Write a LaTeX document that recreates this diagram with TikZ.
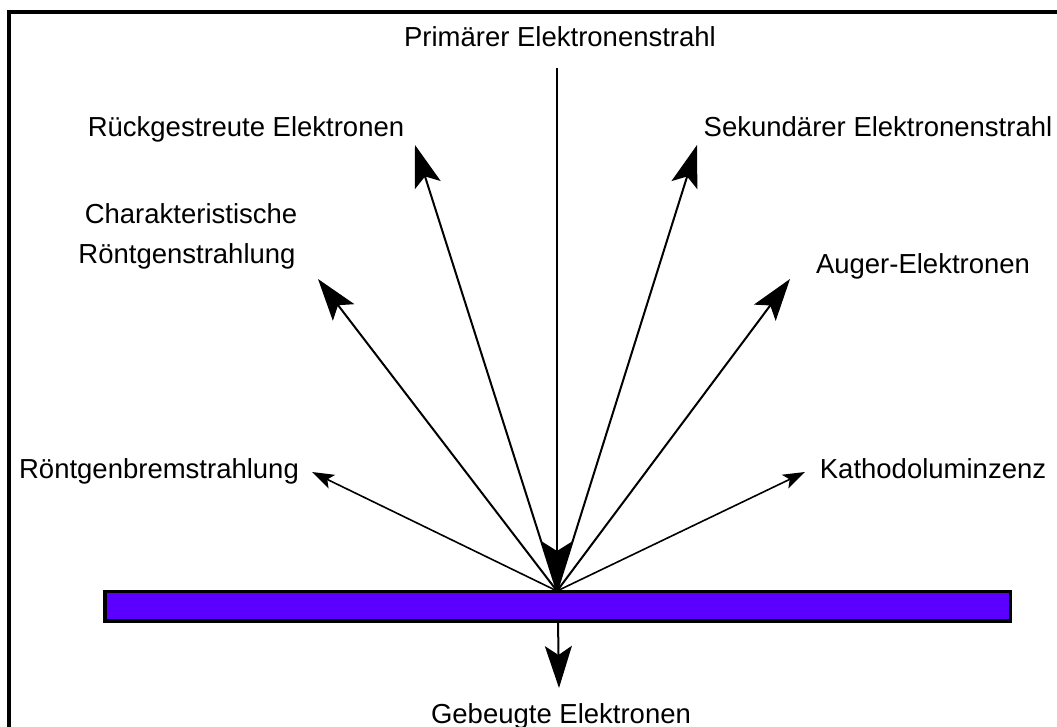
\documentclass[tikz,border=0pt]{standalone}
\usepackage{fontspec}
\setmainfont{Liberation Sans}
\usetikzlibrary{arrows.meta}
\definecolor{barcol}{RGB}{91,0,255}
\begin{document}
\begin{tikzpicture}[x=1pt,y=-1pt,
  lbl/.style={font=\fontsize{27.5}{33}\selectfont, inner sep=0pt, anchor=base},
  ray/.style={line width=2pt, -{Stealth[length=42pt,width=27pt,inset=9pt]}},
  mainray/.style={line width=2pt, -{Stealth[length=50pt,width=32pt,inset=10pt]}},
  smallray/.style={line width=1.6pt, -{Stealth[length=22pt,width=15pt,inset=5pt]}}]
\useasboundingbox (0,0) rectangle (1057,727);
\draw[line width=4pt] (9,727) -- (9,12) -- (1057,12);
\node[draw, line width=3.5pt, fill=barcol, minimum width=905.5pt, minimum height=29.3pt, inner sep=0pt] (bar) at (557.75,606.3) {};
\coordinate (c) at (557,591);
\coordinate (cb) at (558,621);
% labels
\node[lbl] (prim) at (560,47) {Primärer Elektronenstrahl};
\node[lbl] (rueck) at (246,137) {Rückgestreute Elektronen};
\node[lbl] (sek) at (878,137) {Sekundärer Elektronenstrahl};
\node[lbl] (char1) at (191,224) {Charakteristische};
\node[lbl] (char2) at (187,264) {Röntgenstrahlung};
\node[lbl] (auger) at (923,273) {Auger-Elektronen};
\node[lbl] (brems) at (159,478) {Röntgenbremstrahlung};
\node[lbl] (kath) at (933,478) {Kathodoluminzenz};
\node[lbl] (geb) at (561,723) {Gebeugte Elektronen};
% arrow ends
\coordinate (ptop) at (557,68);
\coordinate (trueck) at (415,145);
\coordinate (tsek) at (697,145);
\coordinate (tchar) at (318,279);
\coordinate (tauger) at (790,279);
\coordinate (tbrems) at (312,472);
\coordinate (tkath) at (805,472);
\coordinate (tgeb) at (559,688);
\draw[mainray] (ptop) -- (c);
\draw[ray] (c) -- (trueck);
\draw[ray] (c) -- (tsek);
\draw[ray] (c) -- (tchar);
\draw[ray] (c) -- (tauger);
\draw[smallray] (c) -- (tbrems);
\draw[smallray] (c) -- (tkath);
\draw[ray] (cb) -- (tgeb);
\end{tikzpicture}
\end{document}
